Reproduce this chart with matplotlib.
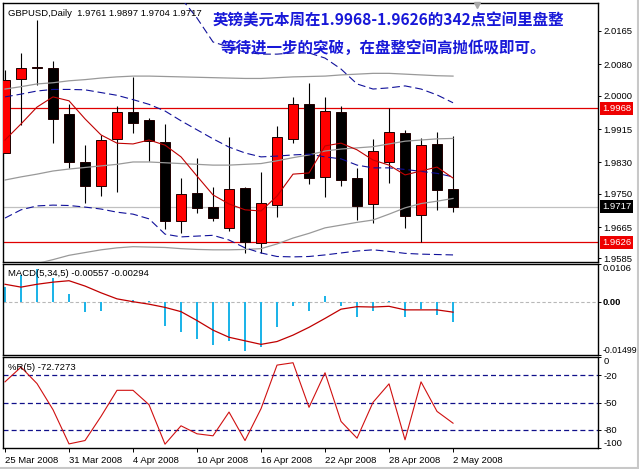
import matplotlib
matplotlib.use('Agg')
import matplotlib.pyplot as plt
import matplotlib.transforms as mtransforms
from matplotlib.lines import Line2D

plt.rcParams['font.family'] = ['Liberation Sans', 'DejaVu Sans']

# ---------------- data ----------------
tick_idx = [0, 4, 8, 12, 16, 20, 24, 28]
tick_labels = ['25 Mar 2008', '31 Mar 2008', '4 Apr 2008', '10 Apr 2008',
               '16 Apr 2008', '22 Apr 2008', '28 Apr 2008', '2 May 2008']

opens = [1.9854, 2.0042, 2.0072, 2.0070, 1.9953, 1.9830, 1.9771, 1.9889, 1.9959, 1.9938,
         1.9883, 1.9681, 1.9751, 1.9715, 1.9662, 1.9765, 1.9624, 1.9721, 1.9890, 1.9979,
         1.9792, 1.9958, 1.9790, 1.9723, 1.9830, 1.9904, 1.9695, 1.9877, 1.9761]
highs = [2.0066, 2.0108, 2.0193, 2.0089, 1.9979, 1.9874, 1.9900, 1.9974, 2.0048, 1.9943,
         1.9928, 1.9789, 1.9840, 1.9768, 1.9894, 1.9767, 1.9805, 1.9923, 1.9997, 2.0032,
         1.9996, 1.9974, 1.9816, 1.9889, 1.9968, 1.9913, 1.9891, 1.9907, 1.9897]
lows = [1.9854, 1.9925, 2.0027, 1.9879, 1.9815, 1.9727, 1.9745, 1.9755, 1.9906, 1.9834,
        1.9660, 1.9649, 1.9702, 1.9681, 1.9656, 1.9598, 1.9598, 1.9690, 1.9879, 1.9775,
        1.9742, 1.9771, 1.9683, 1.9676, 1.9778, 1.9663, 1.9626, 1.9709, 1.9704]
closes = [2.0040, 2.0070, 2.0071, 1.9941, 1.9832, 1.9771, 1.9887, 1.9958, 1.9931, 1.9885,
          1.9681, 1.9749, 1.9713, 1.9689, 1.9761, 1.9626, 1.9726, 1.9894, 1.9978, 1.9789,
          1.9961, 1.9786, 1.9720, 1.9858, 1.9907, 1.9694, 1.9874, 1.9760, 1.9717]

ma5 = [1.9887, 1.9928, 1.9971, 1.9997, 1.9987, 1.9941, 1.9900, 1.9879, 1.9877, 1.9887,
       1.9874, 1.9844, 1.9795, 1.9747, 1.9724, 1.9709, 1.9706, 1.9744, 1.9800, 1.9803,
       1.9872, 1.9879, 1.9862, 1.9836, 1.9823, 1.9798, 1.9808, 1.9818, 1.9790]

bb_upper = [2.0017, 2.0023, 2.0030, 2.0033, 2.0038, 2.0041, 2.0045, 2.0048, 2.0050, 2.0050,
            2.0049, 2.0048, 2.0047, 2.0046, 2.0045, 2.0044, 2.0044, 2.0046, 2.0048, 2.0049,
            2.0050, 2.0053, 2.0055, 2.0057, 2.0057, 2.0055, 2.0053, 2.0051, 2.0050]
bb_mid = [1.9785, 1.9793, 1.9800, 1.9808, 1.9813, 1.9817, 1.9821, 1.9825, 1.9831, 1.9831,
          1.9829, 1.9827, 1.9825, 1.9823, 1.9823, 1.9825, 1.9827, 1.9834, 1.9842, 1.9849,
          1.9859, 1.9864, 1.9867, 1.9870, 1.9877, 1.9884, 1.9887, 1.9890, 1.9891]
bb_lower = [1.9553, 1.9563, 1.9572, 1.9582, 1.9593, 1.9600, 1.9607, 1.9612, 1.9615, 1.9614,
            1.9613, 1.9610, 1.9608, 1.9607, 1.9607, 1.9608, 1.9610, 1.9622, 1.9637, 1.9649,
            1.9663, 1.9670, 1.9677, 1.9683, 1.9698, 1.9714, 1.9725, 1.9731, 1.9738]

env_upper = [2.0305, 2.0331, 2.0305, 2.0310, 2.0313, 2.0313, 2.0305, 2.0298, 2.0282, 2.0270,
             2.0275, 2.0249, 2.0198, 2.0137, 2.0124, 2.0111, 2.0106, 2.0106, 2.0109, 2.0109,
             2.0096, 2.0068, 2.0030, 2.0017, 2.0020, 2.0025, 2.0017, 2.0002, 1.9982]
env_mid = [1.9997, 2.0004, 2.0012, 2.0016, 2.0016, 2.0015, 2.0008, 2.0001, 1.9990, 1.9978,
           1.9961, 1.9936, 1.9913, 1.9890, 1.9869, 1.9854, 1.9844, 1.9846, 1.9849, 1.9851,
           1.9844, 1.9839, 1.9823, 1.9816, 1.9816, 1.9812, 1.9807, 1.9802, 1.9793]
env_lower = [1.9688, 1.9709, 1.9719, 1.9721, 1.9720, 1.9716, 1.9711, 1.9703, 1.9698, 1.9686,
             1.9647, 1.9640, 1.9642, 1.9644, 1.9632, 1.9612, 1.9599, 1.9590, 1.9589, 1.9590,
             1.9594, 1.9599, 1.9604, 1.9607, 1.9603, 1.9598, 1.9596, 1.9595, 1.9594]

range_high = 1.9968
range_low = 1.9626
last_price = 1.9717
price_ticks = [2.0165, 2.0080, 2.0000, 1.9915, 1.9830, 1.9750, 1.9665, 1.9585]

macd_hist = [0.0042, 0.0075, 0.0092, 0.0068, 0.0022, -0.0028, -0.0025, 0.0000, 0.0005, 0.0003,
             -0.0068, -0.0084, -0.0105, -0.0122, -0.0110, -0.0138, -0.0127, -0.0070, -0.0011, -0.0026,
             0.0016, -0.0012, -0.0042, -0.0026, 0.0002, -0.0042, -0.0021, -0.0038, -0.00557]
macd_signal = [0.0049, 0.0041, 0.0049, 0.0055, 0.0059, 0.0044, 0.0025, 0.0008, 0.0000, -0.0007,
               -0.0016, -0.0028, -0.0053, -0.0080, -0.0100, -0.0110, -0.0120, -0.0112, -0.0094, -0.0072,
               -0.0047, -0.0021, -0.0014, -0.0015, -0.0013, -0.0023, -0.0023, -0.0023, -0.00294]

wpr = [-27.3, -11.1, -29.2, -57.9, -95.5, -91.8, -65.3, -36.6, -36.6, -52.4,
       -95.8, -75.6, -84.4, -86.6, -60.5, -91.8, -56.8, -8.9, -6.3, -55.3,
       -17.3, -70.8, -89.2, -49.8, -29.5, -91.0, -27.3, -59.8, -72.7273]
wpr_levels = [-20, -50, -80]

title_cn_1 = '英镑美元本周在1.9968-1.9626的342点空间里盘整'
title_cn_2 = '等待进一步的突破，在盘整空间高抛低吸即可。'

# ---------------- figure ----------------
W, H = 639, 469
fig = plt.figure(figsize=(W / 100, H / 100), dpi=100)
fig.patch.set_facecolor('white')

def box(top, bottom, left=3, right=598):
    return [left / W, 1 - bottom / H, (right - left) / W, (bottom - top) / H]

ax = fig.add_axes(box(3, 262))
ax2 = fig.add_axes(box(264, 355))
ax3 = fig.add_axes(box(357, 448))

n = len(closes)
x = list(range(n))
xlim = (-0.125, 37.06)
FS = 6.8

for a in (ax, ax2, ax3):
    a.set_xlim(*xlim)
    a.set_facecolor('white')
    for s in a.spines.values():
        s.set_color('black')
        s.set_linewidth(1.0)
    a.yaxis.tick_right()
    a.tick_params(axis='y', direction='out', length=2.5, width=0.7, pad=1.2,
                  labelsize=FS, colors='black')
    a.tick_params(axis='x', bottom=False, labelbottom=False)

# ---- main price panel ----
ax.set_ylim(1.957595, 2.02364)

ax.axhline(range_high, color='#e00000', lw=0.9, zorder=1)
ax.axhline(range_low, color='#e00000', lw=0.9, zorder=1)
ax.axhline(last_price, color='#c0c0c0', lw=0.9, zorder=1)

for i in range(n):
    o, h, l, c = opens[i], highs[i], lows[i], closes[i]
    ax.vlines(i, l, h, color='black', lw=0.8, zorder=2)
    bull = c >= o
    lo_b, hi_b = min(o, c), max(o, c)
    if hi_b - lo_b < 0.00005:
        ax.hlines(c, i - 0.33, i + 0.33, color='black', lw=1.4, zorder=3)
    else:
        ax.bar(i, hi_b - lo_b, bottom=lo_b, width=0.66,
               color='#ff0000' if bull else 'black', edgecolor='#200000',
               linewidth=0.7, zorder=3)

ax.plot(x, bb_upper, color='#999999', lw=0.9, zorder=4)
ax.plot(x, bb_mid, color='#999999', lw=0.9, zorder=4)
ax.plot(x, bb_lower, color='#999999', lw=0.9, zorder=4)
for arr in (env_upper, env_mid, env_lower):
    ax.plot(x, arr, color='#10109a', lw=0.8, ls=(0, (7, 3.5)), zorder=4)
ax.plot(x, ma5, color='#c00000', lw=0.8, zorder=5)

ax.set_yticks(price_ticks)
ax.set_yticklabels(['%.4f' % v for v in price_ticks])

trans = mtransforms.blended_transform_factory(ax.transAxes, ax.transData)
for val, bg in ((range_high, '#ee0000'), (range_low, '#ee0000'), (last_price, 'black')):
    ax.text(1.0065, val, '%.4f' % val, transform=trans, color='white', fontsize=FS,
            va='center', ha='left', clip_on=False, zorder=10,
            bbox=dict(boxstyle='square,pad=0.22', fc=bg, ec='none'))

ax.plot([0.7969], [0.992], transform=ax.transAxes, marker='v', ms=5,
        color='#a8a8a8', clip_on=False, zorder=6)

# ---- MACD panel ----
ax2.set_ylim(-0.01499, 0.0106)
ax2.axhline(0, color='#b8b8b8', lw=0.8, ls=(0, (3, 2)), zorder=1)
ax2.bar(x, macd_hist, width=0.14, color='#1eb4e8', zorder=2)
ax2.plot(x, macd_signal, color='#c00000', lw=0.9, zorder=3)
ax2.set_yticks([-0.01499, 0.0, 0.0106])
ax2.set_yticklabels(['-0.01499', '0.00', '0.0106'])
ax2.tick_params(axis='y', pad=0.6)
lbls = ax2.get_yticklabels()
lbls[0].set_va('bottom')
lbls[0].set_fontsize(6.3)
lbls[1].set_fontweight('bold')
lbls[2].set_va('top')

# ---- %R panel ----
ax3.set_ylim(-100, 0)
for lv in wpr_levels:
    ax3.axhline(lv, color='#10108a', lw=0.9, ls=(0, (4, 2.5)), zorder=1)
ax3.plot(x, wpr, color='#d01010', lw=0.8, zorder=3)
ax3.set_yticks([-100, -80, -50, -20, 0])
ax3.set_yticklabels(['-100', '-80', '-50', '-20', '0'])
l3 = ax3.get_yticklabels()
l3[0].set_va('bottom')
l3[4].set_va('top')

ax3.set_xticks(tick_idx)
ax3.set_xticklabels(tick_labels, ha='left')
ax3.tick_params(axis='x', bottom=True, labelbottom=True, direction='out', length=3,
                width=0.7, pad=2.5, labelsize=FS, colors='black')

# ---- texts ----
fig.text(8 / W, 1 - 13 / H, 'GBPUSD,Daily  1.9761 1.9897 1.9704 1.9717',
         fontsize=FS, ha='left', va='center', color='black')
fig.text(8 / W, 1 - 273 / H, 'MACD(5,34,5) -0.00557 -0.00294',
         fontsize=FS, ha='left', va='center', color='black')
fig.text(8 / W, 1 - 367 / H, '%R(5) -72.7273',
         fontsize=FS, ha='left', va='center', color='black')

cn_font = ['Noto Sans CJK SC', 'DejaVu Sans']
fig.text(388 / W, 1 - 20 / H, title_cn_1, fontsize=11.15, fontweight='bold',
         color='#1818d8', ha='center', va='center', family=cn_font)
fig.text(383.5 / W, 1 - 48 / H, title_cn_2, fontsize=11.15, fontweight='bold',
         color='#1818d8', ha='center', va='center', family=cn_font)

fig.add_artist(Line2D([0, 1], [1.5 / H, 1.5 / H], color='#c8c8c8', lw=1.5))
fig.add_artist(Line2D([1 - 1.5 / W, 1 - 1.5 / W], [0, 1], color='#c8c8c8', lw=1.5))

fig.savefig('out.png', dpi=100, facecolor='white')
